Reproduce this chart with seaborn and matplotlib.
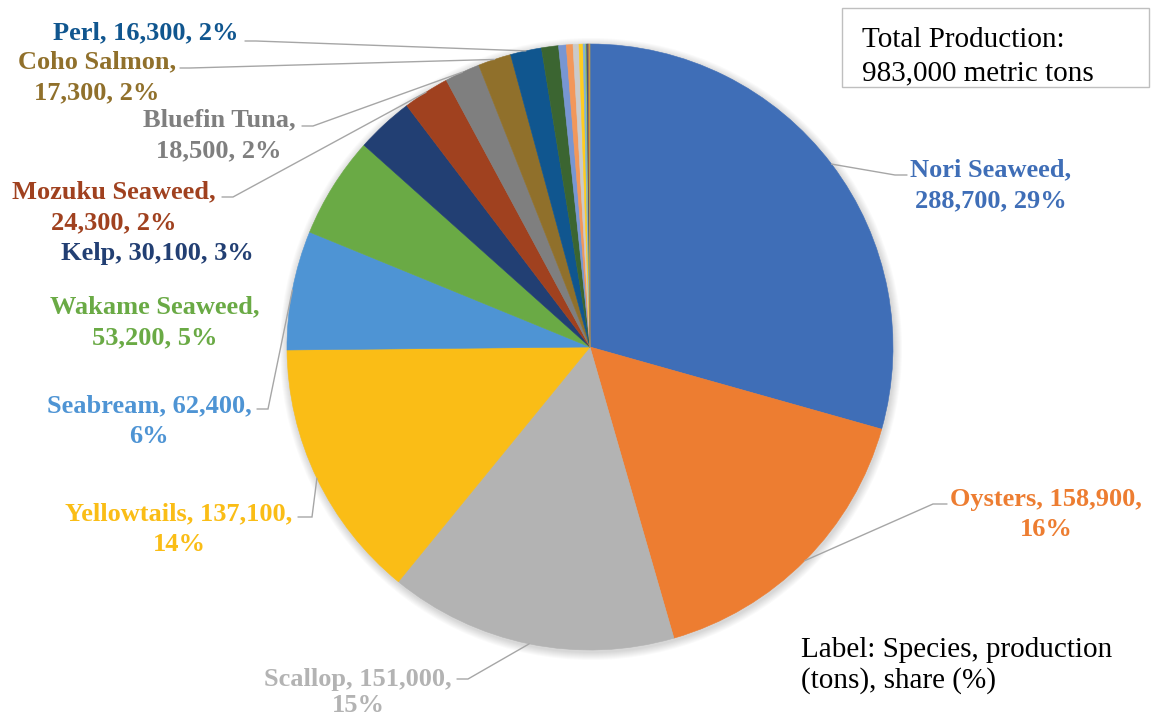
import math
import matplotlib
matplotlib.use("Agg")
import matplotlib.pyplot as plt
from matplotlib.patches import Circle, Rectangle
import seaborn as sns

# ---------------- data ----------------
species = ["Nori Seaweed", "Oysters", "Scallop", "Yellowtails", "Seabream",
           "Wakame Seaweed", "Kelp", "Mozuku Seaweed", "Bluefin Tuna",
           "Coho Salmon", "Perl", "Other 1", "Other 2", "Other 3", "Other 4",
           "Other 5", "Other 6", "Other 7", "Other 8", "Other 9", "Other 10",
           "Other 11"]
production = [288700, 158900, 151000, 137100, 62400, 53200, 30100, 24300,
              18500, 17300, 16300, 8900, 4000, 3500, 3100, 2100, 1200, 700,
              600, 500, 300, 300]
colors = ["#3F6EB7", "#ED7D31", "#B3B3B3", "#FABD16", "#4E94D4", "#6AAA45",
          "#223F73", "#A0411F", "#7F7F7F", "#90702B", "#10568F", "#3B6531",
          "#7896D2", "#F2975A", "#CACACA", "#FFCC1F", "#7FB0DD", "#90C06A",
          "#2F4E86", "#B85B2A", "#8A8A8A", "#C9A23A"]
total_text = ["Total Production:", "983,000 metric tons"]
note_text = ["Label: Species, production", "(tons), share (%)"]

# ---------------- layout (pixel coordinates) ----------------
W, H = 1151, 717
CX, CY, R = 590, 347, 303
# name: (x centre, first baseline, break index, line spacing,
#        leader stub (x_start, x_elbow, y))
label_layout = {
    "Nori Seaweed":   (991, 176, 1, 31, (907, 895, 175)),
    "Oysters":        (1046, 506, 2, 30, (947, 933, 504)),
    "Scallop":        (358, 686, 2, 26, (457, 468, 679)),
    "Yellowtails":    (179, 520, 2, 31, (298, 312, 517)),
    "Seabream":       (149, 412, 2, 31, (257, 268, 409)),
    "Wakame Seaweed": (155, 313, 1, 31, None),
    "Kelp":           (157, 260, 3, 31, None),
    "Mozuku Seaweed": (114, 198, 1, 31, (222, 233, 197)),
    "Bluefin Tuna":   (219, 126, 1, 31, (302, 313, 126)),
    "Coho Salmon":    (97, 68, 1, 31, (180, 190, 68)),
    "Perl":           (146, 39, 3, 31, (245, 256, 41)),
}
SERIF = ["Liberation Serif", "DejaVu Serif"]

sns.set_theme(style="white")
plt.rcParams["font.family"] = SERIF

fig = plt.figure(figsize=(W / 100, H / 100), dpi=100)
ax = fig.add_axes([0, 0, 1, 1])

# soft shadow
for k in range(1, 9):
    ax.add_patch(Circle((CX + 1, CY + 2), R + k, color="black", alpha=0.018,
                        lw=0, zorder=0))

wedges, _ = ax.pie(production, colors=colors, startangle=-90,
                   counterclock=True, center=(CX, CY), radius=R,
                   wedgeprops=dict(linewidth=0.4))
for w, c in zip(wedges, colors):
    w.set_edgecolor(c)
    w.set_zorder(2)

ax.set_xlim(0, W)
ax.set_ylim(H, 0)
ax.set_axis_off()

total = sum(production)
for w, name, val, col in zip(wedges, species, production, colors):
    if name not in label_layout:
        continue
    x, yb, k, sp, stub = label_layout[name]
    pct = round(val / total * 100)
    parts = [name, f"{val:,}", f"{pct}%"]
    if k >= 3:
        lines = [", ".join(parts)]
    else:
        lines = [", ".join(parts[:k]) + ",", ", ".join(parts[k:])]
    for i, ln in enumerate(lines):
        ax.text(x, yb + i * sp, ln, ha="center", va="baseline",
                fontsize=19, fontweight="bold", color=col, zorder=5)
    if stub is not None:
        mid = math.radians((w.theta1 + w.theta2) / 2)
        ex = CX + R * math.cos(mid)
        ey = CY + R * math.sin(mid)
        xs, xe, ys = stub
        ax.plot([xs, xe, ex], [ys, ys, ey], color="#A6A6A6", lw=1.0,
                zorder=3, solid_joinstyle="miter")

# total production box
ax.add_patch(Rectangle((842, 8), 307, 79, fill=False, edgecolor="#BFBFBF",
                       lw=1.0, zorder=4))
for i, ln in enumerate(total_text):
    ax.text(862, 47 + i * 33, ln, ha="left", va="baseline", fontsize=21,
            color="black", zorder=5)

for i, ln in enumerate(note_text):
    ax.text(801, 657 + i * 31, ln, ha="left", va="baseline", fontsize=21,
            color="black", zorder=5)

fig.savefig("out.png", dpi=100, facecolor="white")
